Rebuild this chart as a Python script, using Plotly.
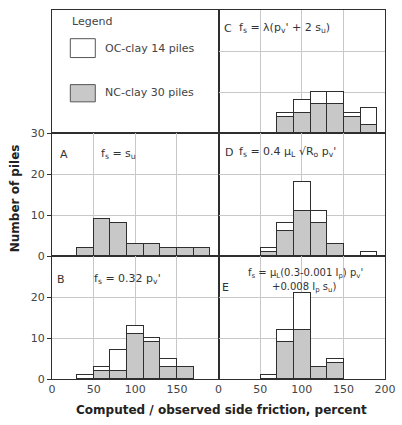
import plotly.graph_objects as go
from plotly.subplots import make_subplots

# ---- data ----
bin_centers = [40, 60, 80, 100, 120, 140, 160, 180]   # bins 30-50, 50-70, ... 170-190
a_nc = [2, 9, 8, 3, 3, 2, 2, 2]
b_nc = [0, 2, 2, 11, 9, 3, 3, 0]
b_oc = [1, 1, 5, 2, 1, 2, 0, 0]
c_nc = [0, 0, 4, 5, 7, 7, 4, 2]
c_oc = [0, 0, 1, 3, 3, 3, 1, 4]
d_nc = [0, 1, 6, 11, 8, 3, 0, 0]
d_oc = [0, 1, 2, 7, 3, 0, 0, 1]
e_nc = [0, 0, 9, 12, 3, 4, 0, 0]
e_oc = [0, 1, 3, 9, 0, 1, 0, 0]

x_ticks_left = [0, 50, 100, 150]
x_ticks_right = [0, 50, 100, 150, 200]
y_ticks_mid = [0, 10, 20, 30]
y_ticks_bot = [0, 10, 20]

legend_title = "Legend"
oc_label = "OC-clay 14 piles"
nc_label = "NC-clay 30 piles"
x_title = "Computed / observed side friction, percent"
y_title = "Number of piles"

DARK = "#2e2e2e"
GREY = "#c8c8c8"
GRID = "#c8c8c8"
FONT = "DejaVu Sans"

fig = make_subplots(rows=3, cols=2, horizontal_spacing=0, vertical_spacing=0)


def nz(v):
    return [None if t == 0 else t for t in v]


panels = {
    (2, 1): (a_nc, None),
    (3, 1): (b_nc, b_oc),
    (1, 2): (c_nc, c_oc),
    (2, 2): (d_nc, d_oc),
    (3, 2): (e_nc, e_oc),
}

for (r, c), (nc, oc) in panels.items():
    fig.add_trace(go.Bar(x=bin_centers, y=nz(nc), width=20,
                         marker=dict(color=GREY, line=dict(color=DARK, width=1)),
                         showlegend=False, hoverinfo="skip"), row=r, col=c)
    if oc is not None:
        fig.add_trace(go.Bar(x=bin_centers, y=nz(oc), width=20,
                             marker=dict(color="white", line=dict(color=DARK, width=1)),
                             showlegend=False, hoverinfo="skip"), row=r, col=c)

# axes
for r in (1, 2, 3):
    for c in (1, 2):
        legend_panel = (r == 1 and c == 1)
        xa = dict(range=[0, 200], showline=True, mirror=True, linecolor=DARK, linewidth=1,
                  showgrid=not legend_panel, gridcolor=GRID, gridwidth=1, zeroline=False,
                  ticks="", fixedrange=True)
        if r == 3:
            xa.update(tickvals=x_ticks_left if c == 1 else x_ticks_right,
                      showticklabels=True,
                      tickfont=dict(family=FONT, size=11, color="#444"))
        else:
            xa.update(tickvals=[50, 100, 150], showticklabels=False)
        ya = dict(range=[0, 30], showline=True, mirror=True, linecolor=DARK, linewidth=1,
                  showgrid=not legend_panel, gridcolor=GRID, gridwidth=1, zeroline=False,
                  fixedrange=True)
        if c == 1 and r == 2:
            ya.update(tickvals=y_ticks_mid, showticklabels=True, ticks="outside", ticklen=4,
                      tickcolor=DARK, tickfont=dict(family=FONT, size=11, color="#444"))
        elif c == 1 and r == 3:
            ya.update(tickvals=y_ticks_bot, showticklabels=True, ticks="outside", ticklen=4,
                      tickcolor=DARK, tickfont=dict(family=FONT, size=11, color="#444"))
        else:
            ya.update(tickvals=[10, 20], showticklabels=False, ticks="")
        fig.update_xaxes(xa, row=r, col=c)
        fig.update_yaxes(ya, row=r, col=c)

ann_font = dict(family=FONT, size=11, color="#333")
small_font = dict(family=FONT, size=10, color="#333")
leg_font = dict(family=FONT, size=11, color="#444")
anns = []


def add_text(text, x, y, xref, yref, font=ann_font, xanchor="left"):
    anns.append(dict(text=text, x=x, y=y, xref=xref, yref=yref, showarrow=False,
                     xanchor=xanchor, yanchor="middle", font=font))


# legend panel (x / y)
add_text(legend_title, 22, 27.2, "x", "y", font=leg_font)
add_text(oc_label, 61, 20.6, "x", "y", font=leg_font)
add_text(nc_label, 61, 9.8, "x", "y", font=leg_font)
fig.add_shape(type="rect", x0=22, x1=52, y0=18.4, y1=23.0, xref="x", yref="y",
              line=dict(color="#555", width=1), fillcolor="white")
fig.add_shape(type="rect", x0=22, x1=52, y0=7.6, y1=11.8, xref="x", yref="y",
              line=dict(color="#555", width=1), fillcolor=GREY)

# panel labels
add_text("C", 4, 25.5, "x2", "y2")
add_text("f<sub>s</sub> = λ(p<sub>v</sub>' + 2 s<sub>u</sub>)", 22, 25.5, "x2", "y2")
add_text("A", 7.5, 24.8, "x3", "y3")
add_text("f<sub>s</sub> = s<sub>u</sub>", 57, 24.8, "x3", "y3")
add_text("D", 5, 25.3, "x4", "y4")
add_text("f<sub>s</sub> = 0.4 μ<sub>L</sub> √R<sub>o</sub> p<sub>v</sub>'", 22, 25.3, "x4", "y4")
add_text("B", 4, 24.3, "x5", "y5")
add_text("f<sub>s</sub> = 0.32 p<sub>v</sub>'", 48, 24.3, "x5", "y5")
add_text("f<sub>s</sub> = μ<sub>L</sub>(0.3-0.001 I<sub>p</sub>) p<sub>v</sub>'", 33, 25.8, "x6", "y6",
         font=small_font)
add_text("E", 2, 22.4, "x6", "y6")
add_text("+0.008 I<sub>p</sub> s<sub>u</sub>)", 62, 22.4, "x6", "y6", font=small_font)

# axis titles
anns.append(dict(text="<b>" + y_title + "</b>", x=-0.111, y=0.49, xref="paper", yref="paper",
                 showarrow=False, textangle=-90, xanchor="center", yanchor="middle",
                 font=dict(family=FONT, size=12, color="#222")))
anns.append(dict(text="<b>" + x_title + "</b>", x=0.51, y=-0.083, xref="paper", yref="paper",
                 showarrow=False, xanchor="center", yanchor="middle",
                 font=dict(family=FONT, size=12, color="#222")))

fig.update_layout(
    width=402, height=425,
    margin=dict(l=52, r=17, t=4, b=46),
    barmode="stack", bargap=0,
    plot_bgcolor="white", paper_bgcolor="white",
    annotations=anns,
    showlegend=False,
)

fig.write_html("out.html", config={"displayModeBar": False},
               post_script="document.body.style.margin='0';document.body.style.overflow='hidden';")
